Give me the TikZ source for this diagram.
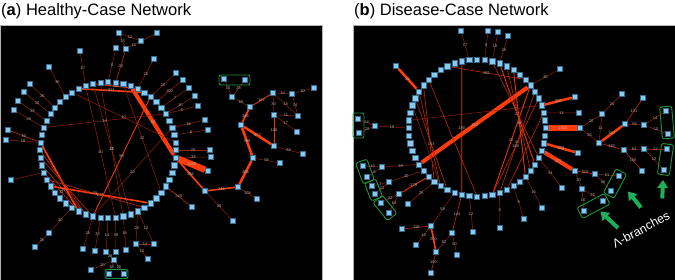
\documentclass[tikz,border=0pt]{standalone}
\usepackage{fontspec}
\setmainfont{Liberation Sans}
\usetikzlibrary{arrows.meta}
\definecolor{nodefill}{RGB}{135,204,240}
\definecolor{nodeline}{RGB}{55,105,140}
\definecolor{ed0}{RGB}{150,32,5}
\definecolor{ed1}{RGB}{195,40,5}
\definecolor{ed2}{RGB}{232,52,8}
\definecolor{ed3}{RGB}{255,60,10}
\definecolor{gbx}{RGB}{25,150,65}
\definecolor{garrow}{RGB}{30,175,90}
\definecolor{lblc}{RGB}{175,175,175}
\pgfdeclarelayer{back}\pgfdeclarelayer{edges}\pgfsetlayers{back,edges,main}
\newcommand\edg[4]{\draw[#1] (#2) -- node[lbl]{#4} (#3);}
\begin{document}
\begin{tikzpicture}[x=1pt,y=-1pt,
 nd/.style={draw=nodeline, fill=nodefill, line width=0.45pt, minimum size=5.3pt, inner sep=0pt, rectangle},
 lbl/.style={font=\fontsize{4}{4.5}\selectfont, text=lblc, inner sep=0pt},
 e0/.style={draw=ed0, line width=0.5pt},
 e1/.style={draw=ed1, line width=0.6pt},
 e2/.style={draw=ed2, line width=0.9pt},
 e3/.style={draw=ed3, line width=1.6pt},
 e4/.style={draw=ed3, line width=2.5pt},
 e5/.style={draw=ed3, line width=4pt},
 e6/.style={draw=ed3, line width=6.3pt},
 gbox/.style={draw=gbx, line width=0.9pt, rounded corners=2pt, inner sep=0pt, fill=none, rectangle},
 garr/.style={draw=garrow, line width=4pt, -{Triangle[width=10.5pt,length=8pt]}},
 ttl/.style={anchor=base west, font=\fontsize{16.5}{18}\selectfont, inner sep=0pt}
]
\useasboundingbox (0,0) rectangle (675,280);
\begin{pgfonlayer}{back}
\filldraw[fill=black, draw=gray!60, line width=0.5pt] (0,25) rectangle (322,280);
\filldraw[fill=black, draw=gray!60, line width=0.5pt] (353,25) rectangle (675,280);
\end{pgfonlayer}
\node[ttl] (ta) at (1,16) {(\textbf{a}) Healthy-Case Network};
\node[ttl] (tb) at (354,16) {(\textbf{b}) Disease-Case Network};
% ---------- circles
\foreach \i in {1,...,56} {
 \pgfmathsetmacro\ang{(\i-1)*6.428571}
 \node[nd] (L\i) at ({108+68*sin(\ang)}, {150-68*cos(\ang)}) {};
 \node[nd] (R\i) at ({477+68.5*sin(\ang)}, {128-68.5*cos(\ang)}) {};
}
% ---------- left outer nodes
\foreach \n/\x/\y in {a1/119/33, a2/157/33, a3/141/41, a4/116/48, a5/126/49, a6/80/51, a7/154/59,
 a8/49/67, a9/176/73, a10/183/80, a11/30/84, a12/24/92, a13/189/88, a14/18/101, a15/195/96,
 a16/14/110, a17/198/106, a18/205/120, a19/8/130, a20/208/130, a21/6/140, a22/210/150,
 a23/211/157, a24/208/171, a25/11/180, a26/205/191, a27/192/207, a28/233/221, a29/49/233,
 a30/35/247, a31/83/249, a32/95/251, a33/106/252, a34/116/252, a35/126/250, a36/136/244,
 a37/154/244, a38/114/260, a39/148/259, a40/91/270, a41/109/274, a42/124/274,
 b1/224/79, b2/245/80, b3/232/97, b4/250/107, b5/273/93, b6/292/94, b7/314/88, b8/274/115,
 b9/298/116, b10/297/132, b11/241/125, b12/274/146, b13/303/154, b14/253/158, b15/280/163,
 b16/238/187, b17/257/199}
 {\node[nd] (\n) at (\x,\y) {};}
% ---------- right outer nodes
\foreach \n/\x/\y in {c1/461/31, c2/488/31, c3/498/32, c4/508/36, c5/396/66, c6/358/119, c7/359/133,
 c8/375/126, c9/560/69, c10/575/97, c11/579/113, c12/580/128, c13/578/153, c14/575/171,
 c15/622/94, c16/643/98, c17/666/111, c18/668/134, c19/602/114, c20/625/124, c21/644/125,
 c22/599/143, c23/624/150, c24/644/149, c25/667/149, c26/664/170, c27/642/171, c28/595/174,
 c29/619/176, c30/611/191, c31/582/189, c32/603/201, c33/584/211, c34/562/188, c35/542/208,
 c36/524/219, c37/363/166, c38/367/177, c39/382/167, c40/372/186, c41/375/194, c42/389/182,
 c43/381/203, c44/389/213, c45/399/194, c46/408/204, c47/402/229, c48/431/226, c49/416/245,
 c50/436/252, c51/452/233, c52/457/255, c53/431/273, c54/473/232, c55/500/228}
 {\node[nd] (\n) at (\x,\y) {};}
% ---------- green boxes
\node[gbox, minimum width=31pt, minimum height=10pt] (gl1) at (234.5,80) {};
\node[gbox, minimum width=23pt, minimum height=9pt] (gl2) at (116.5,274) {};
\node[gbox, minimum width=11pt, minimum height=25pt] (gr1) at (358.5,125.5) {};
\node[gbox, minimum width=22pt, minimum height=12pt, rotate=-70] (gr2) at (365,171.5) {};
\node[gbox, minimum width=19pt, minimum height=12pt, rotate=-69] (gr3) at (373.5,190) {};
\node[gbox, minimum width=23pt, minimum height=12pt, rotate=-51] (gr4) at (385,208) {};
\node[gbox, minimum width=32pt, minimum height=12pt, rotate=-85] (gr5) at (667,122.5) {};
\node[gbox, minimum width=31pt, minimum height=12pt, rotate=-98] (gr6) at (665.5,159.5) {};
\node[gbox, minimum width=27pt, minimum height=12pt, rotate=62] (gr7) at (615,183.5) {};
\node[gbox, minimum width=31pt, minimum height=12pt, rotate=28] (gr8) at (593.5,206) {};
% ---------- arrows and note
\coordinate (ar1s) at (618,228); \coordinate (ar1e) at (600.5,211.5);
\coordinate (ar2s) at (641,207.5); \coordinate (ar2e) at (628,191.5);
\coordinate (ar3s) at (662.3,198.5); \coordinate (ar3e) at (663,180);
\draw[garr] (ar1s) -- (ar1e);
\draw[garr] (ar2s) -- (ar2e);
\draw[garr] (ar3s) -- (ar3e);
\node[text=white, font=\fontsize{12.3}{14}\selectfont, rotate=28, inner sep=0pt] (lam) at (641,229.5) {Λ-branches};
% ---------- edges
\begin{pgfonlayer}{edges}
% left panel
\edg{e0}{a1}{a5}{13} \edg{e0}{a1}{a3}{12} \edg{e0}{a3}{a5}{15} \edg{e0}{a2}{a3}{}
\edg{e0}{a4}{L1}{8} \edg{e1}{a5}{L2}{20} \edg{e0}{a6}{L54}{17} \edg{e0}{a7}{L5}{26}
\edg{e0}{a8}{L51}{36} \edg{e0}{a9}{L7}{20} \edg{e0}{a10}{L8}{100} \edg{e0}{a13}{L9}{7}
\edg{e0}{a15}{L10}{10} \edg{e0}{a17}{L10}{6} \edg{e0}{a18}{L12}{36} \edg{e0}{a20}{L13}{6}
\edg{e0}{a22}{L15}{20} \edg{e0}{a23}{L16}{39}
\edg{e6}{L16}{a24}{1208} \edg{e3}{L16}{a26}{388} \edg{e5}{L4}{L16}{56}
\edg{e3}{L53}{L6}{314} \edg{e2}{L55}{L5}{12}
\edg{e1}{a27}{L20}{240} \edg{e0}{a25}{L40}{}
\edg{e0}{a11}{L49}{36} \edg{e0}{a12}{L48}{30} \edg{e0}{a14}{L47}{39} \edg{e0}{a16}{L46}{40}
\edg{e1}{a19}{L44}{60} \edg{e0}{a21}{L44}{18}
\edg{e0}{a29}{L34}{30} \edg{e0}{a30}{a29}{35} \edg{e0}{a31}{L31}{26} \edg{e0}{a32}{L30}{33}
\edg{e0}{a33}{L29}{14} \edg{e0}{a34}{L28}{39} \edg{e0}{a35}{L27}{16} \edg{e0}{a36}{L25}{20}
\edg{e0}{a37}{L25}{13} \edg{e0}{a36}{a39}{10} \edg{e0}{a36}{a37}{14} \edg{e0}{a33}{a38}{28}
\edg{e0}{a38}{a40}{20} \edg{e0}{a38}{a41}{18} \edg{e0}{a38}{a42}{20}
\edg{e3}{L44}{L33}{} \edg{e1}{L43}{L32}{} \edg{e3}{L38}{L23}{271} \edg{e1}{L39}{L24}{28}
\edg{e1}{L41}{L32}{21} \edg{e1}{L40}{L33}{11} \edg{e1}{L42}{L31}{}
\edg{e0}{L54}{L28}{40} \edg{e0}{L56}{L27}{25} \edg{e0}{L55}{L26}{11} \edg{e2}{L7}{L31}{99}
\edg{e0}{L12}{L31}{20} \edg{e0}{L3}{L21}{42} \edg{e0}{L46}{L10}{14} \edg{e0}{L52}{L14}{10}
\edg{e0}{a26}{a28}{38} \edg{e3}{a26}{b16}{246} \edg{e4}{b16}{b14}{456} \edg{e4}{b14}{b11}{388}
\edg{e3}{b11}{b4}{366} \edg{e2}{b4}{b5}{182} \edg{e4}{b11}{b12}{273} \edg{e2}{b12}{b8}{128}
\edg{e0}{b8}{b5}{33} \edg{e0}{b5}{b6}{34} \edg{e0}{b6}{b7}{62} \edg{e0}{b8}{b9}{11}
\edg{e0}{b5}{b9}{18} \edg{e0}{b6}{b9}{24} \edg{e0}{b8}{b10}{17} \edg{e0}{b12}{b13}{68}
\edg{e0}{b14}{b15}{56} \edg{e0}{b16}{b17}{108} \edg{e0}{b4}{b3}{60} \edg{e0}{b3}{b1}{15}
\edg{e0}{b3}{b2}{25}
% right panel
\edg{e0}{c1}{R56}{17} \edg{e0}{c2}{R2}{5} \edg{e0}{c3}{R3}{10} \edg{e0}{c4}{R4}{28}
\edg{e4}{c5}{R48}{28} \edg{e0}{c8}{R43}{19} \edg{e0}{c6}{c8}{24} \edg{e0}{c7}{c8}{20}
\edg{e0}{c9}{R9}{30} \edg{e4}{R12}{c10}{220} \edg{e0}{R13}{c11}{13} \edg{e6}{R15}{c12}{1308}
\edg{e4}{R17}{c13}{603} \edg{e5}{R18}{c14}{317} \edg{e0}{R19}{c34}{34} \edg{e0}{R22}{c35}{16}
\edg{e0}{R24}{c36}{8}
\edg{e1}{c14}{c28}{315} \edg{e0}{c28}{c29}{61} \edg{e0}{c14}{c31}{30} \edg{e0}{c28}{c30}{36}
\edg{e0}{c31}{c32}{25} \edg{e0}{c31}{c33}{16}
\edg{e0}{c12}{c19}{20} \edg{e0}{c19}{c15}{20} \edg{e0}{c12}{c22}{35} \edg{e0}{c19}{c22}{11}
\edg{e4}{c22}{c20}{312} \edg{e1}{c20}{c16}{101} \edg{e0}{c20}{c21}{55} \edg{e0}{c21}{c17}{14}
\edg{e0}{c21}{c18}{10} \edg{e1}{c22}{c23}{198} \edg{e0}{c23}{c24}{64} \edg{e0}{c24}{c25}{22}
\edg{e1}{c23}{c27}{100} \edg{e0}{c24}{c26}{12}
\edg{e0}{c39}{R38}{38} \edg{e0}{c37}{c39}{15} \edg{e0}{c38}{c39}{8} \edg{e0}{c42}{R37}{20}
\edg{e0}{c40}{c42}{7} \edg{e0}{c41}{c42}{12} \edg{e2}{c45}{R36}{279} \edg{e0}{c46}{R35}{25}
\edg{e0}{c45}{c43}{22} \edg{e0}{c45}{c44}{64} \edg{e0}{c48}{R32}{58} \edg{e1}{c48}{c47}{118}
\edg{e0}{c48}{c49}{16} \edg{e3}{c48}{c50}{200} \edg{e0}{c50}{c51}{62} \edg{e1}{c51}{R31}{144}
\edg{e0}{c51}{c52}{50} \edg{e1}{c50}{c53}{100} \edg{e0}{c54}{R30}{12} \edg{e0}{c55}{R26}{8}
\edg{e5}{R38}{R9}{124} \edg{e2}{R55}{R31}{180} \edg{e1}{R53}{R8}{182}
\edg{e1}{R48}{R34}{} \edg{e1}{R47}{R33}{153} \edg{e1}{R49}{R35}{} \edg{e0}{R46}{R34}{}
\edg{e2}{R9}{R27}{22} \edg{e1}{R10}{R26}{40} \edg{e1}{R11}{R27}{168} \edg{e2}{R4}{R20}{27}
\edg{e1}{R5}{R21}{} \edg{e2}{R6}{R22}{18} \edg{e1}{R3}{R19}{7} \edg{e1}{R13}{R25}{}
\edg{e0}{R44}{R12}{} \edg{e1}{R50}{R29}{}
\end{pgfonlayer}
\end{tikzpicture}
\end{document}
